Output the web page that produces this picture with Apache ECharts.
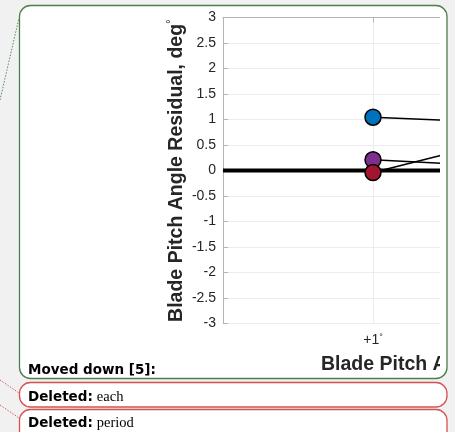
<!DOCTYPE html>
<html>
<head>
<meta charset="utf-8">
<script src="https://cdn.jsdelivr.net/npm/echarts@6/dist/echarts.min.js"></script>
<style>
  html, body { margin: 0; padding: 0; width: 455px; height: 432px; overflow: hidden; background: #f1f1f1; }
  #deco { position: absolute; left: 0; top: 0; }
  #clip { position: absolute; left: 0; top: 0; width: 440px; height: 378px; overflow: hidden; }
  #chart { width: 900px; height: 432px; }
  .lbl { position: absolute; left: 28px; white-space: nowrap; color: #000; }
  .b { font-family: "DejaVu Sans", sans-serif; font-weight: bold; font-size: 13.5px; }
  .s { font-family: "Liberation Serif", serif; font-size: 14.5px; }
</style>
</head>
<body>
<svg id="deco" width="455" height="432">
  <line x1="0" y1="100" x2="19" y2="18" stroke="#5a8a5a" stroke-width="1" stroke-dasharray="1.5 1.5"/>
  <line x1="0" y1="380" x2="19" y2="393" stroke="#d65a5a" stroke-width="1" stroke-dasharray="1.5 1.5"/>
  <line x1="0" y1="405" x2="19" y2="418" stroke="#d65a5a" stroke-width="1" stroke-dasharray="1.5 1.5"/>
  <rect x="19.5" y="5.5" width="427.5" height="373" rx="11" fill="#fff" stroke="#4d7f4d" stroke-width="1.3"/>
  <rect x="19.5" y="382.5" width="427.5" height="24.5" rx="11" fill="#fff" stroke="#d65252" stroke-width="1.3"/>
  <rect x="19.5" y="409.5" width="427.5" height="40" rx="11" fill="#fff" stroke="#d65252" stroke-width="1.3"/>
</svg>
<div id="clip"><div id="chart"></div></div>
<div class="lbl b" style="top:361px;">Moved down [5]:</div>
<div class="lbl" style="top:387px;"><span class="b">Deleted:</span> <span class="s">each</span></div>
<div class="lbl" style="top:413px;"><span class="b">Deleted:</span> <span class="s">period</span></div>
<script>
// ---- data ----
var xPositions = [1, 2];
var xTickLabels = ['+1', '+2'];
var blueValues = [1.045, 0.92];
var purpleValues = [0.21, 0.06];
var redValues = [-0.04, 0.70];
var zeroLineX = [0, 4];
var zeroLineY = [0, 0];
var yTitle = 'Blade Pitch Angle Residual, deg';
var xTitle = 'Blade Pitch Angle Offset';

function pairs(xs, ys) { return xs.map(function (x, i) { return [x, ys[i]]; }); }

var font = '"Liberation Sans", Arial, sans-serif';
var axisGray = '#b4b4b4';
var txt = '#262626';

var chart = echarts.init(document.getElementById('chart'), null, { renderer: 'canvas' });

function pointSeries(name, vals, color) {
  return {
    name: name, type: 'line', data: pairs(xPositions, vals),
    symbol: 'circle', symbolSize: 16,
    lineStyle: { color: '#000', width: 1.5 },
    itemStyle: { color: color, borderColor: '#000', borderWidth: 1.5 },
    z: 5, animation: false, silent: true
  };
}

chart.setOption({
  backgroundColor: 'transparent',
  animation: false,
  grid: { left: 223, top: 17.5, width: 600, height: 306, outerBoundsMode: 'none', containLabel: false },
  xAxis: [{
    type: 'value', min: 0, max: 4, interval: 1, position: 'bottom',
    axisLine: { show: true, lineStyle: { color: axisGray, width: 1 } },
    axisTick: { show: true, inside: true, length: 5, lineStyle: { color: axisGray } },
    splitLine: { show: true, lineStyle: { color: '#ececec', width: 1 } },
    axisLabel: {
      margin: 10, color: txt, fontFamily: font, fontSize: 14,
      formatter: function (v) {
        var i = xPositions.indexOf(v);
        return i < 0 ? '' : xTickLabels[i] + '{s|°}';
      },
      rich: { s: { fontSize: 9, verticalAlign: 'top', lineHeight: 9, color: txt, fontFamily: font } }
    }
  }, {
    type: 'value', min: 0, max: 4, interval: 1, position: 'top',
    axisLine: { show: true, lineStyle: { color: axisGray, width: 1 } },
    axisTick: { show: true, inside: true, length: 5, lineStyle: { color: axisGray } },
    splitLine: { show: false }, axisLabel: { show: false }
  }],
  yAxis: {
    type: 'value', min: -3, max: 3, interval: 0.5,
    axisLine: { show: true, lineStyle: { color: axisGray, width: 1 } },
    axisTick: { show: true, inside: true, length: 5, lineStyle: { color: axisGray } },
    splitLine: { show: true, lineStyle: { color: '#ececec', width: 1 } },
    axisLabel: { margin: 7, color: txt, fontFamily: font, fontSize: 14 },
    name: yTitle + '{s|°}',
    nameLocation: 'middle', nameRotate: 90, nameGap: 35, nameMoveOverlap: false,
    nameTextStyle: {
      color: txt, fontFamily: font, fontSize: 19.5, fontWeight: 'bold', lineHeight: 22,
      rich: { s: { fontSize: 12, fontWeight: 'normal', verticalAlign: 'top', lineHeight: 12, color: txt, fontFamily: font } }
    }
  },
  graphic: [{
    type: 'text', left: 321, top: 355,
    style: { text: xTitle, fill: txt, font: 'bold 19.5px ' + font }
  }],
  series: [
    {
      name: 'zero', type: 'line', data: pairs(zeroLineX, zeroLineY),
      showSymbol: false, symbol: 'none',
      lineStyle: { color: '#000', width: 4 }, z: 2, silent: true
    },
    pointSeries('blue', blueValues, '#0072BD'),
    pointSeries('purple', purpleValues, '#7E2F8E'),
    pointSeries('red', redValues, '#A2142F')
  ]
});
</script>
</body>
</html>
